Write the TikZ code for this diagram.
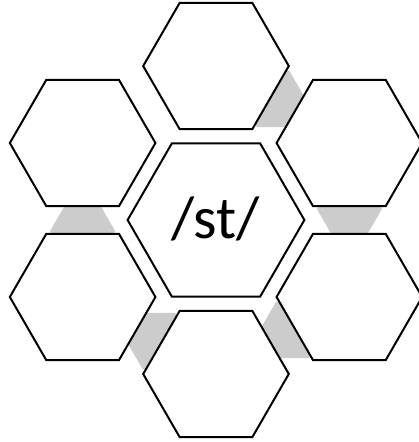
\documentclass[tikz,border=0pt]{standalone}
\usepackage{fontspec}
\setmainfont{Carlito}
\usetikzlibrary{shapes.geometric,calc}

\begin{document}
\begin{tikzpicture}[x=1pt, y=1pt,
    hexcell/.style={regular polygon, regular polygon sides=6, draw, line width=2pt, fill=white, inner sep=0pt, minimum size=145.6pt},
    hexlink/.style={regular polygon, regular polygon sides=6, fill=black!20, inner sep=0pt, minimum size=65pt}]
    \useasboundingbox (-216,-222) rectangle (203,220);
    % grey links, behind the ring
    \foreach \i/\a in {1/90,2/30,3/-30,4/-90,5/-150} {
        \node[hexlink] (l\i) at ($(\a-30:133.4)+(\a+60:11)$) {};
    }
    % ring
    \foreach \i/\a in {1/90,2/30,3/-30,4/-90,5/-150,6/150} {
        \node[hexcell] (h\i) at (\a:154) {};
    }
    \node[hexcell, minimum size=176.8pt] (mid) at (0,0) {};
    \node[font=\fontsize{60}{60}\selectfont, anchor=base, inner sep=0pt] (lbl) at (0,-18) {/st/};
\end{tikzpicture}
\end{document}
